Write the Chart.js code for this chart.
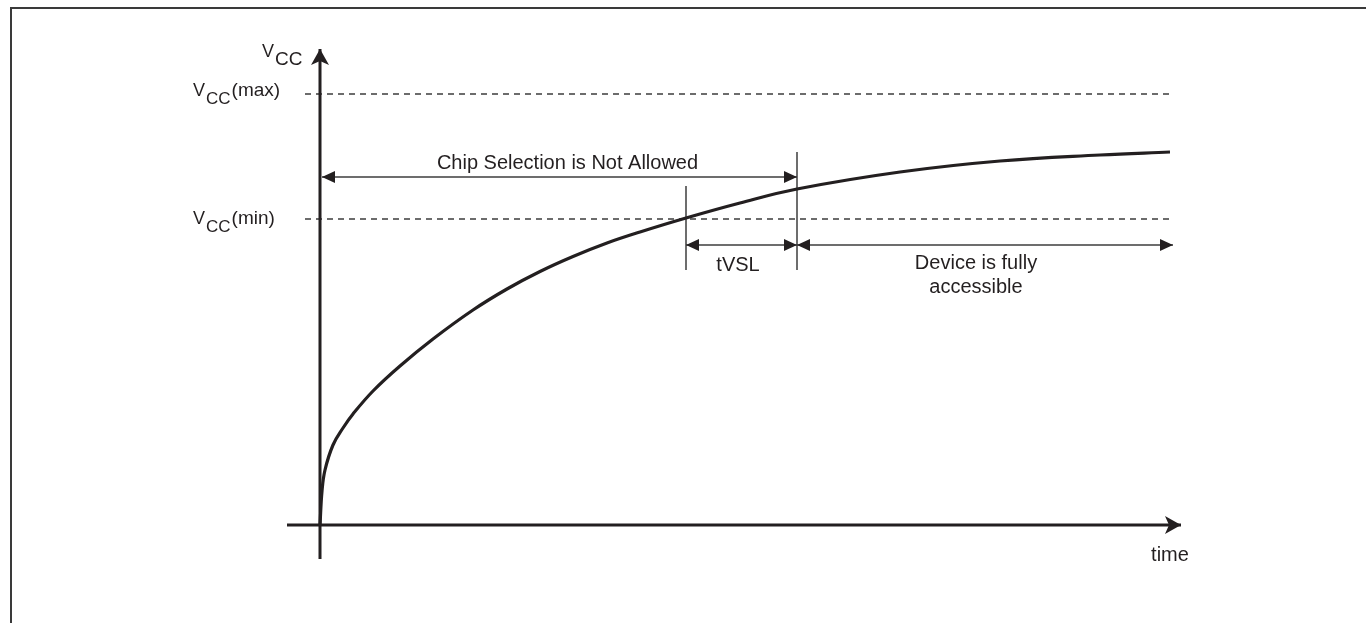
<!DOCTYPE html>
<html>
<head>
    <title>VCC power-up timing</title>
    <script src="https://cdn.jsdelivr.net/npm/chart.js"></script>
    <style>
        body { margin: 0; background: #fff; font-family: "Liberation Sans", Arial, sans-serif; }
        #frame { position: absolute; left: 10px; top: 7px; width: 1400px; height: 700px;
                 border-left: 2px solid #3a3a3a; border-top: 2px solid #3a3a3a; }
        #chart { position: absolute; left: 0; top: 0; }
    </style>
</head>
<body>
    <div id="frame"></div>
    <canvas id="chart" width="1366" height="623"></canvas>

    <script>
        // VCC ramp (time / VCC in arbitrary units)
        const timeVals = [0, 0.02, 0.05, 0.13, 0.23, 0.33, 0.53, 0.80, 1.13, 1.53, 1.87, 2.20, 2.53, 2.87, 3.20, 3.66, 4.20, 4.77, 5.80, 6.80, 7.80, 8.50];
        const vccVals  = [0, 0.34, 0.55, 0.80, 0.97, 1.11, 1.34, 1.59, 1.86, 2.15, 2.36, 2.535, 2.685, 2.82, 2.93, 3.07, 3.22, 3.36, 3.53, 3.64, 3.70, 3.73];

        // levels and timing marks
        const vccMax = 4.31;
        const vccMin = 3.06;
        const tVslStart = 3.66;   // curve crosses VCC(min)
        const tVslEnd = 4.77;     // end of tVSL
        const tLast = 8.52;
        const xRange = [-0.33, 8.65];
        const yRange = [-0.34, 4.8];
        const dimLow = 2.55;      // bottom of the two marker lines
        const chipArrowV = 3.48;
        const lowerArrowV = 2.80;

        const ink = '#231f20';
        const thin = '#3c3c3c';
        const font = '"Liberation Sans", Arial, sans-serif';

        function seg(x0, y0, x1, y1) { return [{ x: x0, y: y0 }, { x: x1, y: y1 }]; }

        const arrowPlugin = {
            id: 'arrows',
            afterDatasetsDraw(chart) {
                const ctx = chart.ctx;
                chart.data.datasets.forEach((ds, i) => {
                    if (!ds.arrow) return;
                    const pts = chart.getDatasetMeta(i).data;
                    const head = (tip, from, len, half, notch) => {
                        const a = Math.atan2(tip.y - from.y, tip.x - from.x);
                        ctx.save();
                        ctx.translate(tip.x, tip.y);
                        ctx.rotate(a);
                        ctx.beginPath();
                        ctx.moveTo(0, 0);
                        ctx.lineTo(-len, -half);
                        ctx.lineTo(-len + notch, 0);
                        ctx.lineTo(-len, half);
                        ctx.closePath();
                        ctx.fillStyle = ink;
                        ctx.fill();
                        ctx.restore();
                    };
                    const n = pts.length;
                    const big = ds.arrow.big;
                    const len = big ? 16 : 13, half = big ? 9 : 6, notch = big ? 4 : 0;
                    if (ds.arrow.end) head(pts[n - 1], pts[n - 2], len, half, notch);
                    if (ds.arrow.start) head(pts[0], pts[1], len, half, notch);
                });
            }
        };

        // texts placed in data coordinates
        const plainLabels = [
            { text: 'Chip Selection is Not Allowed', x: 2.475, y: 3.56 },
            { text: 'tVSL', x: 4.18, y: 2.543 },
            { text: 'Device is fully', x: 6.56, y: 2.557 },
            { text: 'accessible', x: 6.56, y: 2.317 },
            { text: 'time', x: 8.50, y: -0.36 }
        ];
        const vccLabels = [
            { x: -0.58, y: 4.68, tail: '' },
            { x: -1.27, y: 4.295, tail: '(max)' },
            { x: -1.27, y: 3.01, tail: '(min)' }
        ];

        const textPlugin = {
            id: 'texts',
            afterDraw(chart) {
                const ctx = chart.ctx;
                const xs = chart.scales.x, ys = chart.scales.y;
                ctx.save();
                ctx.fillStyle = ink;
                ctx.textBaseline = 'alphabetic';
                ctx.font = '20px ' + font;
                ctx.textAlign = 'center';
                plainLabels.forEach(l => ctx.fillText(l.text, xs.getPixelForValue(l.x), ys.getPixelForValue(l.y)));
                ctx.textAlign = 'left';
                vccLabels.forEach(l => {
                    let px = xs.getPixelForValue(l.x);
                    const py = ys.getPixelForValue(l.y);
                    ctx.font = '18px ' + font;
                    ctx.fillText('V', px, py);
                    px += ctx.measureText('V').width + 1;
                    ctx.font = (l.tail ? '17px ' : '19px ') + font;
                    ctx.fillText('CC', px, py + 8);
                    px += ctx.measureText('CC').width + 1;
                    if (l.tail) {
                        ctx.font = '19px ' + font;
                        ctx.fillText(l.tail, px, py);
                    }
                });
                ctx.restore();
            }
        };

        const curve = timeVals.map((t, i) => ({ x: t, y: vccVals[i] }));

        new Chart(document.getElementById('chart').getContext('2d'), {
            type: 'line',
            data: {
                datasets: [
                    { label: 'VCC', data: curve, borderColor: ink, borderWidth: 3.2, tension: 0.4, order: 0 },
                    { label: 'time axis', data: seg(xRange[0], 0, xRange[1] - 0.04, 0), borderColor: ink, borderWidth: 3, arrow: { end: true, big: true }, order: 1 },
                    { label: 'VCC axis', data: seg(0, yRange[0], 0, yRange[1] - 0.04), borderColor: ink, borderWidth: 3, arrow: { end: true, big: true }, order: 1 },
                    { label: 'VCC(max)', data: seg(-0.15, vccMax, tLast, vccMax), borderColor: thin, borderWidth: 1.5, borderDash: [6, 5], order: 3 },
                    { label: 'VCC(min)', data: seg(-0.15, vccMin, tLast, vccMin), borderColor: thin, borderWidth: 1.5, borderDash: [6, 5], order: 3 },
                    { label: 'mark 1', data: seg(tVslStart, dimLow, tVslStart, 3.39), borderColor: thin, borderWidth: 1.5, order: 2 },
                    { label: 'mark 2', data: seg(tVslEnd, dimLow, tVslEnd, 3.73), borderColor: thin, borderWidth: 1.5, order: 2 },
                    { label: 'not allowed', data: seg(0.02, chipArrowV, tVslEnd, chipArrowV), borderColor: thin, borderWidth: 1.5, arrow: { start: true, end: true }, order: 2 },
                    { label: 'tVSL', data: seg(tVslStart, lowerArrowV, tVslEnd, lowerArrowV), borderColor: thin, borderWidth: 1.5, arrow: { start: true, end: true }, order: 2 },
                    { label: 'accessible', data: seg(tVslEnd, lowerArrowV, tLast + 0.01, lowerArrowV), borderColor: thin, borderWidth: 1.5, arrow: { start: true, end: true }, order: 2 }
                ]
            },
            options: {
                responsive: false,
                animation: false,
                clip: false,
                layout: { padding: { left: 287, right: 181, top: 45, bottom: 98 } },
                elements: { point: { radius: 0, hoverRadius: 0 }, line: { tension: 0, borderCapStyle: 'butt' } },
                plugins: { legend: { display: false }, tooltip: { enabled: false } },
                scales: {
                    x: { type: 'linear', min: xRange[0], max: xRange[1], display: false },
                    y: { type: 'linear', min: 0, max: yRange[1], display: false }
                }
            },
            plugins: [arrowPlugin, textPlugin]
        });
    </script>
</body>
</html>
